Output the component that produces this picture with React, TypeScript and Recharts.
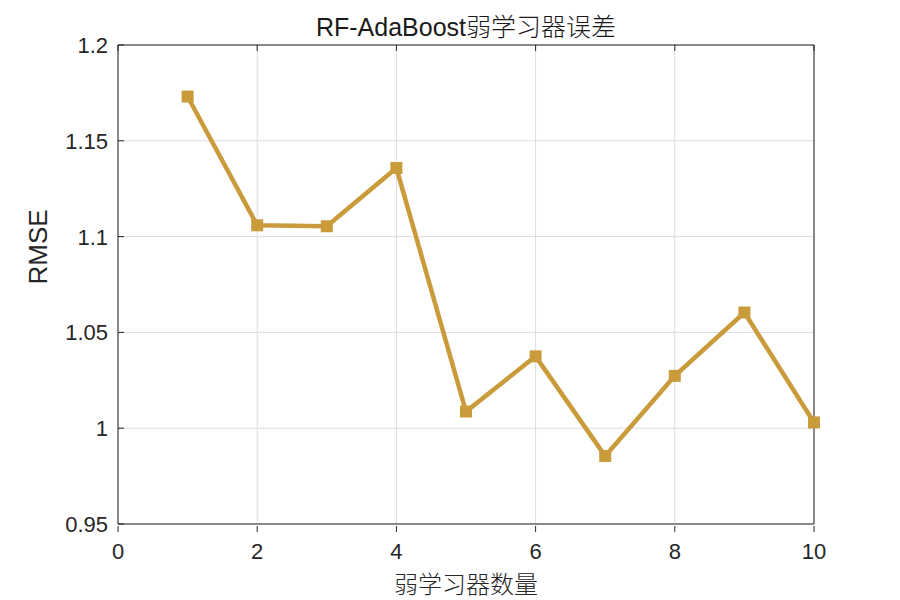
// @ts-nocheck
import { LineChart, Line, XAxis, YAxis, CartesianGrid } from "recharts";

const learners = [1, 2, 3, 4, 5, 6, 7, 8, 9, 10];
const rmse = [1.1731, 1.1059, 1.1054, 1.1358, 1.0087, 1.0375, 0.9855, 1.0273, 1.0604, 1.003];
const xTicks = [0, 2, 4, 6, 8, 10];
const yTicks = [0.95, 1, 1.05, 1.1, 1.15, 1.2];

const data = learners.map((n, i) => ({ n, rmse: rmse[i] }));

const AX = "#262626";
const GOLD = "#C99B3B";
const FONT = "'Liberation Sans', Arial, Helvetica, sans-serif";
const CJK = "'Noto Sans CJK SC', 'Liberation Sans', sans-serif";

const fmt = (v) => String(Number(v.toFixed(2)));

const LeftTick = ({ x, y, payload }) => (
  <g>
    <line x1={x + 10} x2={x + 16} y1={y} y2={y} stroke={AX} strokeWidth={1} />
    <text x={x} y={y} dy={8} textAnchor="end" fontSize={22} fill={AX} fontFamily={FONT}>{fmt(payload.value)}</text>
  </g>
);
const RightTick = ({ x, y }) => (
  <line x1={x - 6} x2={x} y1={y} y2={y} stroke={AX} strokeWidth={1} />
);
const BottomTick = ({ x, y, payload }) => (
  <g>
    <line x1={x} x2={x} y1={y - 6} y2={y} stroke={AX} strokeWidth={1} />
    <text x={x} y={y} dy={27} textAnchor="middle" fontSize={22} fill={AX} fontFamily={FONT}>{payload.value}</text>
  </g>
);
const TopTick = ({ x, y }) => (
  <line x1={x} x2={x} y1={y} y2={y + 6} stroke={AX} strokeWidth={1} />
);

const Square = ({ cx, cy, index }) => (
  <rect key={index} x={cx - 6} y={cy - 6} width={12} height={12} fill={GOLD} />
);

export default function App() {
  return (
    <div style={{ position: "absolute", left: 0, top: 0, width: 900, height: 600, background: "#fff" }}>
      <div style={{ position: "absolute", left: 118, width: 696, top: 10, textAlign: "center", color: "#1a1a1a", lineHeight: "30px", whiteSpace: "nowrap" }}>
        <span style={{ fontFamily: FONT, fontSize: 25 }}>RF-AdaBoost</span>
        <span style={{ fontFamily: CJK, fontSize: 25, fontWeight: 300 }}>弱学习器误差</span>
      </div>
      <LineChart width={900} height={600} data={data} margin={{ top: 0, right: 0, bottom: 0, left: 0 }}>
        <CartesianGrid stroke="#dcdcdc" strokeWidth={1} />
        <XAxis xAxisId={0} dataKey="n" type="number" domain={[0, 10]} ticks={xTicks} height={76}
          axisLine={{ stroke: AX }} tickLine={false} tick={<BottomTick />}
          label={{ value: "弱学习器数量", position: "insideBottom", offset: 7, fontSize: 24, fontWeight: 300, fill: AX, fontFamily: CJK }} />
        <XAxis xAxisId="top" orientation="top" dataKey="n" type="number" domain={[0, 10]} ticks={xTicks} height={45}
          axisLine={{ stroke: AX }} tickLine={false} tickSize={0} tickMargin={0} tick={<TopTick />} />
        <YAxis yAxisId={0} type="number" domain={[0.95, 1.2]} ticks={yTicks} width={118}
          axisLine={{ stroke: AX }} tickLine={false} tickSize={0} tickMargin={10} tick={<LeftTick />}
          label={{ value: "RMSE", angle: -90, position: "insideLeft", offset: 38, fontSize: 26, fill: AX, fontFamily: FONT }} />
        <YAxis yAxisId="r" orientation="right" type="number" domain={[0.95, 1.2]} ticks={yTicks} width={86}
          axisLine={{ stroke: AX }} tickLine={false} tickSize={0} tickMargin={0} tick={<RightTick />} />
        <Line xAxisId={0} yAxisId={0} type="linear" dataKey="rmse" stroke={GOLD} strokeWidth={4.5}
          dot={<Square />} activeDot={false} isAnimationActive={false} />
      </LineChart>
    </div>
  );
}
